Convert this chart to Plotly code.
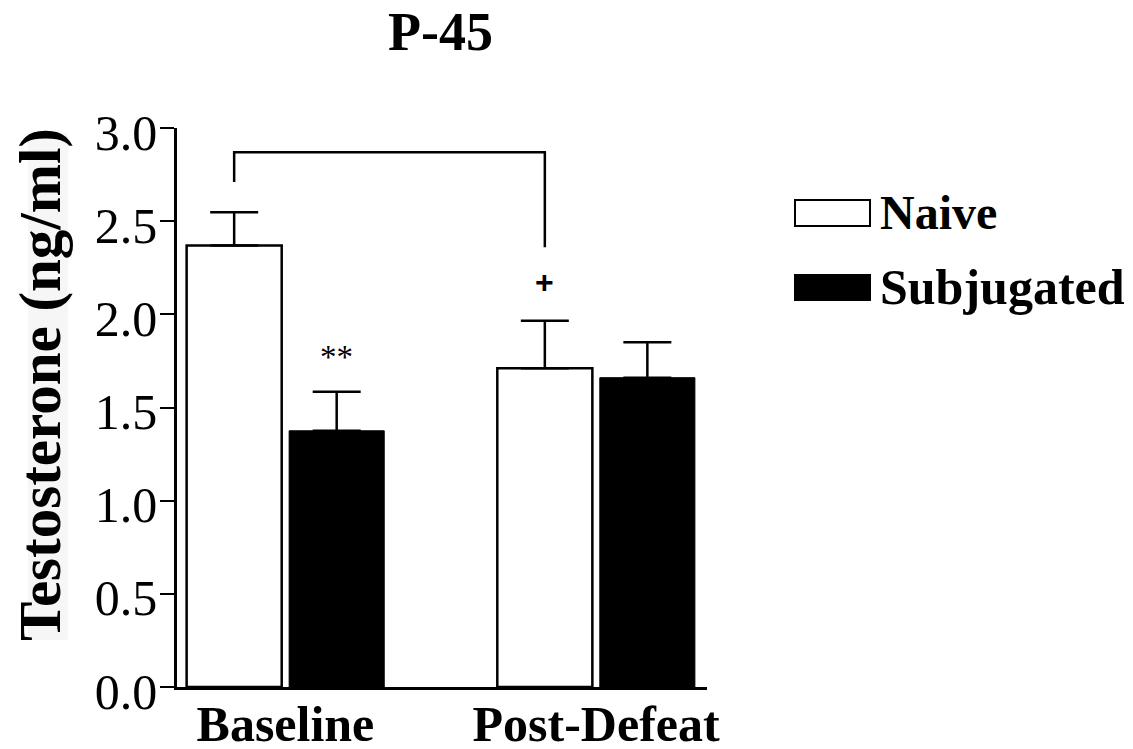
import plotly.graph_objects as go

# ---- data ----
categories = ["Baseline", "Post-Defeat"]
naive_mean = [2.37, 1.71]
naive_sem = [0.178, 0.255]
subj_mean = [1.375, 1.66]
subj_sem = [0.21, 0.19]
y_ticks = [0.0, 0.5, 1.0, 1.5, 2.0, 2.5, 3.0]
y_ticklabels = ["0.0", "0.5", "1.0", "1.5", "2.0", "2.5", "3.0"]
bracket_top = 2.87
bracket_left_bottom = 2.71
bracket_right_bottom = 2.36
star_label = "**"
star_y = 1.77
plus_label = "+"
plus_y = 2.175

# ---- styling ----
FONT = "Liberation Serif"
BAR_W = 0.306
NAIVE_OFF = -0.318
SUBJ_OFF = 0.012
# page has an 8px body margin; figure is sized/positioned to compensate
PW, PH = 530, 559          # plot area size in px
L, T = 169, 120            # left / top margins within the figure
FIG_W, FIG_H = 1125, 741


def px_x(page_x):
    return (page_x - 8 - L) / PW


def px_y(page_y):
    return (T + PH - (page_y - 8)) / PH


xpos = list(range(len(categories)))
naive_center = [x + NAIVE_OFF + BAR_W / 2 for x in xpos]
subj_center = [x + SUBJ_OFF + BAR_W / 2 for x in xpos]

fig = go.Figure()

fig.add_trace(go.Bar(
    x=xpos, y=naive_mean, width=BAR_W, offset=NAIVE_OFF, name="Naive",
    marker=dict(color="white", line=dict(color="black", width=2.5)),
    error_y=dict(type="data", symmetric=False, array=naive_sem,
                 arrayminus=[0] * len(naive_sem), color="black",
                 thickness=2.5, width=24),
    showlegend=False,
))
fig.add_trace(go.Bar(
    x=xpos, y=subj_mean, width=BAR_W, offset=SUBJ_OFF, name="Subjugated",
    marker=dict(color="black", line=dict(color="black", width=1)),
    error_y=dict(type="data", symmetric=False, array=subj_sem,
                 arrayminus=[0] * len(subj_sem), color="black",
                 thickness=2.5, width=24),
    showlegend=False,
))

# significance bracket between the two naive bars
fig.add_trace(go.Scatter(
    x=[naive_center[0], naive_center[0], naive_center[1], naive_center[1]],
    y=[bracket_left_bottom, bracket_top, bracket_top, bracket_right_bottom],
    mode="lines", line=dict(color="black", width=2.5),
    showlegend=False, hoverinfo="skip",
))

annotations = [
    dict(x=subj_center[0], y=star_y, xref="x", yref="y", text=star_label,
         showarrow=False, font=dict(family=FONT, size=33, color="black")),
    dict(x=naive_center[1], y=plus_y, xref="x", yref="y", text="<b>" + plus_label + "</b>",
         showarrow=False, font=dict(family="Liberation Sans", size=32, color="black")),
    # title
    dict(x=px_x(440), y=px_y(32), xref="paper", yref="paper", text="<b>P-45</b>",
         showarrow=False, xanchor="center", yanchor="middle",
         font=dict(family=FONT, size=54, color="black")),
    # y-axis title
    dict(x=px_x(40), y=px_y(385), xref="paper", yref="paper",
         text="<b>Testosterone (ng/ml)</b>", textangle=-90,
         showarrow=False, xanchor="center", yanchor="middle",
         font=dict(family=FONT, size=59, color="black")),
    # legend labels
    dict(x=px_x(878), y=px_y(212), xref="paper", yref="paper",
         text="<b>Naive</b>", showarrow=False, xanchor="left", yanchor="middle",
         font=dict(family=FONT, size=48, color="black")),
    dict(x=px_x(878), y=px_y(287), xref="paper", yref="paper",
         text="<b>Subjugated</b>", showarrow=False, xanchor="left", yanchor="middle",
         font=dict(family=FONT, size=50, color="black")),
]

shapes = [
    # light background behind y-axis title
    dict(type="rect", xref="paper", yref="paper", layer="below",
         x0=px_x(28), x1=px_x(68), y0=px_y(640), y1=px_y(133),
         fillcolor="#f6f6f6", line=dict(width=0)),
    # legend swatches
    dict(type="rect", xref="paper", yref="paper",
         x0=px_x(795), x1=px_x(870), y0=px_y(226), y1=px_y(200),
         fillcolor="white", line=dict(color="black", width=2)),
    dict(type="rect", xref="paper", yref="paper",
         x0=px_x(795), x1=px_x(870), y0=px_y(300), y1=px_y(275),
         fillcolor="black", line=dict(color="black", width=2)),
]

fig.update_layout(
    width=FIG_W, height=FIG_H,
    margin=dict(l=L, r=FIG_W - L - PW, t=T, b=FIG_H - T - PH, pad=0, autoexpand=False),
    paper_bgcolor="white", plot_bgcolor="white",
    barmode="overlay",
    annotations=annotations, shapes=shapes,
    xaxis=dict(
        range=[-0.349, 1.357], tickmode="array", tickvals=xpos,
        ticktext=["<b>%s</b>" % c for c in categories],
        showline=True, linecolor="black", linewidth=2.5, ticks="",
        showgrid=False, zeroline=False, automargin=False,
        ticklabelstandoff=-9,
        tickfont=dict(family=FONT, size=50, color="black"),
    ),
    yaxis=dict(
        range=[0, 3.0], tickmode="array", tickvals=y_ticks, ticktext=y_ticklabels,
        showline=True, linecolor="black", linewidth=2.5, ticks="outside",
        ticklen=14, tickwidth=2, tickcolor="black",
        showgrid=False, zeroline=False, automargin=False,
        ticklabelstandoff=-7, ticklabelshift=4,
        tickfont=dict(family=FONT, size=50, color="black"),
    ),
)

fig.write_html("out.html")
